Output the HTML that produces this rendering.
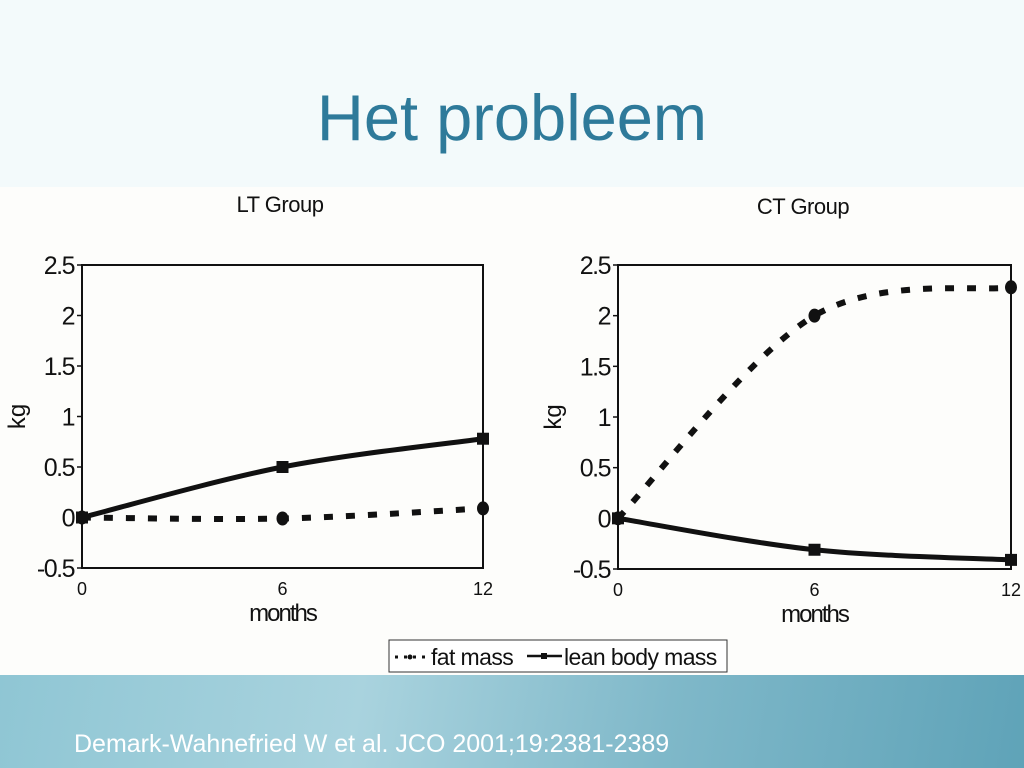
<!DOCTYPE html>
<html><head><meta charset="utf-8"><style>
body{margin:0;width:1024px;height:768px;overflow:hidden;background:#f3fafb;font-family:"Liberation Sans",sans-serif;position:relative}
#title{position:absolute;left:0;width:1024px;top:80px;text-align:center;font-size:65px;color:#2e7a9a;padding-left:0}
#band{position:absolute;left:0;top:675px;width:1024px;height:93px;background:linear-gradient(100deg,#8fc6d4 0%,#a9d3de 35%,#7fb8c9 65%,#5fa3b8 100%)}
#cite{position:absolute;left:74px;top:730px;font-size:25px;color:#fff}
svg{position:absolute;left:0;top:0}
</style></head><body>
<div id="title">Het probleem</div>
<div id="band"></div>
<div id="cite">Demark-Wahnefried W et al. JCO 2001;19:2381-2389</div>
<svg id="chart" width="1024" height="768" font-family="Liberation Sans, sans-serif">
<rect x="0" y="187" width="1024" height="488" fill="#fdfdfb"/>
</svg>
<script>
const months=[0,6,12];
const yTicks=[2.5,2,1.5,1,0.5,0,-0.5];
const yTickLabels=["2.5","2","1.5","1","0.5","0","-0.5"];
const ltFat=[0,-0.01,0.09];
const ltLean=[0,0.5,0.78];
const ctFat=[0,2.0,2.28];
const ctLean=[0,-0.31,-0.41];
const NS="http://www.w3.org/2000/svg";
const svg=document.getElementById('chart');
function mk(tag,attrs,parent){const e=document.createElementNS(NS,tag);for(const k in attrs)e.setAttribute(k,attrs[k]);(parent||svg).appendChild(e);return e;}
function smooth(pts){let d=`M${pts[0][0]},${pts[0][1]}`;for(let i=0;i<pts.length-1;i++){const p0=pts[Math.max(i-1,0)],p1=pts[i],p2=pts[i+1],p3=pts[Math.min(i+2,pts.length-1)];const c1=[p1[0]+(p2[0]-p0[0])/6,p1[1]+(p2[1]-p0[1])/6];const c2=[p2[0]-(p3[0]-p1[0])/6,p2[1]-(p3[1]-p1[1])/6];d+=` C${c1[0]},${c1[1]} ${c2[0]},${c2[1]} ${p2[0]},${p2[1]}`;}return d;}
function panel(name,title,x0,x1,y0,y1,fat,lean,titleX,titleY){
  const g=mk('g',{});
  
  
  const xs=v=>x0+(v-0)/(12-0)*(x1-x0);
  const ys=v=>y1-(v+0.5)/3*(y1-y0);
  const t=mk('text',{x:titleX,y:titleY,'text-anchor':'middle','font-size':22,'letter-spacing':'-0.5',fill:'#111'},g);t.textContent=title;
  
  const r=mk('rect',{x:x0,y:y0,width:x1-x0,height:y1-y0,fill:'none',stroke:'#111','stroke-width':2},g);
  
  yTicks.forEach((v,i)=>{const y=ys(v);mk('line',{x1:x0-5,x2:x0,y1:y,y2:y,stroke:'#111','stroke-width':1.5},g);
    const l=mk('text',{x:x0-8,y:y+9,'text-anchor':'end','font-size':25,'letter-spacing':'-1.5',fill:'#111'},g);l.textContent=yTickLabels[i];
    });
  months.forEach(m=>{const l=mk('text',{x:xs(m),y:y1+27,'text-anchor':'middle','font-size':18,fill:'#111'},g);l.textContent=m;
    });
  const xl=mk('text',{x:(x0+x1)/2,y:y1+53,'text-anchor':'middle','font-size':24,'letter-spacing':'-2',fill:'#111'},g);xl.textContent='months';
  
  const yl=mk('text',{x:0,y:0,'text-anchor':'middle','font-size':24,fill:'#111',transform:`translate(${x0-57},${(y0+y1)/2}) rotate(-90)`},g);yl.textContent='kg';
  
  const fp=months.map((m,i)=>[xs(m),ys(fat[i])]);
  const f=mk('path',{d:smooth(fp),fill:'none',stroke:'#111','stroke-width':6,'stroke-dasharray':'9 13'},g);
  
  fp.forEach(p=>{const c=mk('ellipse',{cx:p[0],cy:p[1],rx:6,ry:7,fill:'#111'},g);});
  const lp=months.map((m,i)=>[xs(m),ys(lean[i])]);
  const ln=mk('path',{d:smooth(lp),fill:'none',stroke:'#111','stroke-width':5},g);
  
  lp.forEach(p=>{const s=mk('rect',{x:p[0]-6,y:p[1]-6,width:12,height:12,fill:'#111'},g);});
}
panel('lt-group-panel','LT Group',82,483,265,568,ltFat,ltLean,280,212);
panel('ct-group-panel','CT Group',618,1011,265,569,ctFat,ctLean,803,214);
// legend
const lg=mk('g',{});


mk('rect',{x:389,y:640,width:338,height:32,fill:'#fff',stroke:'#333','stroke-width':1},lg);
mk('line',{x1:395,x2:425,y1:657,y2:657,stroke:'#111','stroke-width':3,'stroke-dasharray':'3 6'},lg);
mk('circle',{cx:410,cy:657,r:2.5,fill:'#111'},lg);
const t1=mk('text',{x:431,y:665,'font-size':23,'letter-spacing':'-0.6',fill:'#111'},lg);t1.textContent='fat mass';

mk('line',{x1:527,x2:562,y1:656,y2:656,stroke:'#111','stroke-width':2.5},lg);
mk('rect',{x:541,y:653,width:6,height:6,fill:'#111'},lg);
const t2=mk('text',{x:564,y:665,'font-size':23,'letter-spacing':'-0.6',fill:'#111'},lg);t2.textContent='lean body mass';

</script>
</body></html>
